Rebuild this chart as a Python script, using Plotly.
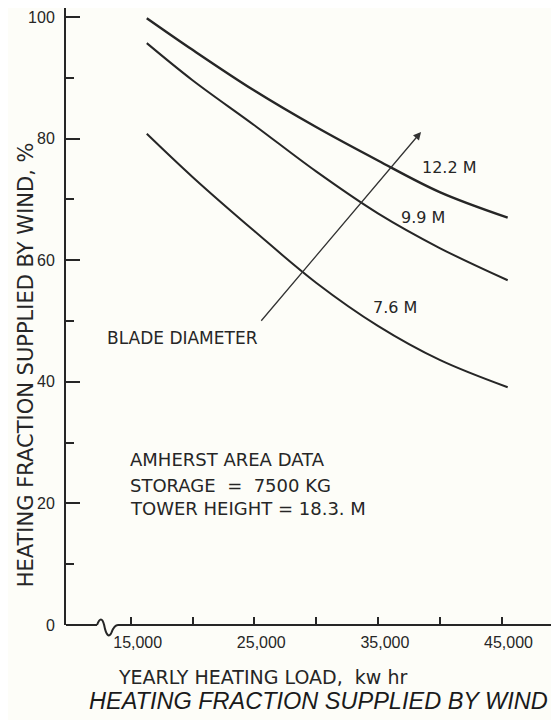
import plotly.graph_objects as go

# ---- data ----
load_kwh = [16300, 20000, 25000, 30000, 35000, 40000, 45500]
frac_12_2m = [99.8, 94.6, 87.9, 81.9, 76.4, 71.2, 67.0]
frac_9_9m = [95.7, 89.6, 82.2, 74.6, 67.7, 62.0, 56.7]
frac_7_6m = [80.8, 73.7, 64.8, 56.3, 49.2, 43.6, 39.1]
curve_labels = ["12.2 M", "9.9 M", "7.6 M"]
label_x = [40770, 38650, 36420]
label_y = [75.3, 67.1, 52.3]

x_tickvals = [15000, 20000, 25000, 30000, 35000, 40000, 45000]
x_ticktext = ["15,000", "", "25,000", "", "35,000", "", "45,000"]
y_tickvals = [0, 20, 40, 60, 80, 100]

arrow_tail = (25460, 49.8)
arrow_head = (38490, 81.1)
blade_label_pos = (19190, 47.2)
notes = ["AMHERST AREA DATA", "STORAGE  =  7500 KG", "TOWER HEIGHT = 18.3. M"]
notes_x = 14790
notes_y = [27.3, 22.9, 19.2]

x_range = [9765, 49652]
y_range = [0, 101.48]
break_x = [12273, 13972]

BG = "#fdfdf8"
INK = "#262626"
FONT = "DejaVu Sans"
TICKFONT = "Liberation Sans"

fig = go.Figure()
series = [frac_12_2m, frac_9_9m, frac_7_6m]
widths = [2.4, 2.0, 2.0]
for vals, name, w in zip(series, curve_labels, widths):
    fig.add_trace(go.Scatter(x=load_kwh, y=vals, mode="lines", name=name,
                             line=dict(color=INK, width=w, shape="spline", smoothing=1.0),
                             showlegend=False, hoverinfo="skip"))

annotations = []
for t, lx, ly in zip(curve_labels, label_x, label_y):
    annotations.append(dict(x=lx, y=ly, xref="x", yref="y", text=t, showarrow=False,
                            font=dict(family=FONT, size=16, color=INK)))
annotations.append(dict(x=arrow_head[0], y=arrow_head[1], ax=arrow_tail[0], ay=arrow_tail[1],
                        xref="x", yref="y", axref="x", ayref="y", text="", showarrow=True,
                        arrowhead=2, arrowsize=1.2, arrowwidth=1.3, arrowcolor="#333333"))
annotations.append(dict(x=blade_label_pos[0], y=blade_label_pos[1], xref="x", yref="y",
                        text="BLADE DIAMETER", showarrow=False,
                        font=dict(family=FONT, size=17, color=INK)))
for t, ny in zip(notes, notes_y):
    annotations.append(dict(x=notes_x, y=ny, xref="x", yref="y", text=t, showarrow=False,
                            xanchor="left", yanchor="middle",
                            font=dict(family=FONT, size=18, color=INK)))
# axis titles and chart title
annotations.append(dict(x=-0.081, y=0.421, xref="paper", yref="paper", textangle=-90,
                        xanchor="center", yanchor="middle",
                        text="HEATING FRACTION SUPPLIED BY WIND, %", showarrow=False,
                        font=dict(family=FONT, size=21, color=INK)))
annotations.append(dict(x=0.398, y=-0.0835, xref="paper", yref="paper",
                        xanchor="center", yanchor="middle",
                        text="YEARLY HEATING LOAD,  kw hr", showarrow=False,
                        font=dict(family=FONT, size=19, color=INK)))
annotations.append(dict(x=0.513, y=-0.1232, xref="paper", yref="paper",
                        xanchor="center", yanchor="middle",
                        text="<i>HEATING FRACTION SUPPLIED BY WIND</i>", showarrow=False,
                        font=dict(family="Liberation Sans", size=23.5, color="#1a1a1a")))

shapes = [
    dict(type="line", xref="x", yref="paper", x0=x_range[0], x1=break_x[0], y0=0, y1=0,
         line=dict(color=INK, width=2)),
    dict(type="path", xref="x", yref="paper",
         path=f"M{break_x[0]},0 C12500,0.012 12700,0.012 12850,0 C13000,-0.016 13250,-0.022 13450,-0.012 "
              f"C13600,-0.004 13800,0 {break_x[1]},0",
         line=dict(color=INK, width=2)),
    dict(type="line", xref="x", yref="paper", x0=break_x[1], x1=x_range[1], y0=0, y1=0,
         line=dict(color=INK, width=2)),
]

# the page body has an 8px margin, so the figure is offset by 8px
fig.update_layout(
    width=551, height=712,
    margin=dict(l=58, r=0, t=0, b=95),
    paper_bgcolor=BG, plot_bgcolor=BG,
    annotations=annotations, shapes=shapes,
    xaxis=dict(range=x_range, showgrid=False, zeroline=False, showline=False,
               tickvals=x_tickvals, ticktext=x_ticktext, ticks="inside", ticklen=8,
               tickwidth=1.5, tickcolor=INK, ticklabelshift=7, ticklabelstandoff=6,
               tickfont=dict(family=TICKFONT, size=16, color=INK)),
    yaxis=dict(range=y_range, showgrid=False, zeroline=False, showline=True,
               linecolor=INK, linewidth=2, tickvals=y_tickvals, ticks="inside", ticklen=14,
               tickwidth=1.5, tickcolor=INK, ticklabelstandoff=6,
               minor=dict(ticks="inside", ticklen=8, dtick=10, tickcolor=INK, tickwidth=1.5),
               tickfont=dict(family=TICKFONT, size=16, color=INK)),
)

fig.write_html("out.html")
